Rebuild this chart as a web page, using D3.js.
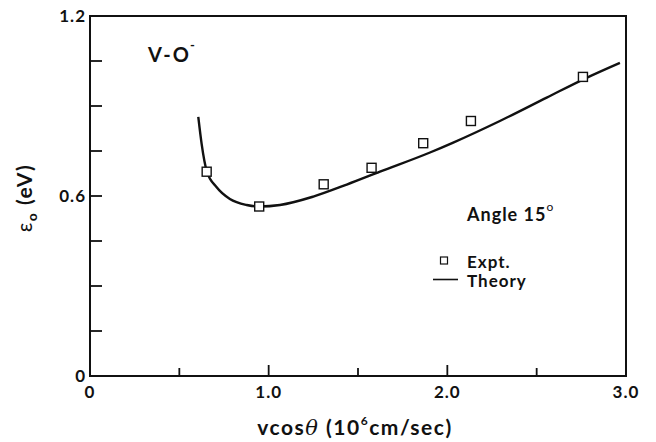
<!DOCTYPE html>
<html>
<head>
<meta charset="utf-8">
<script src="https://cdn.jsdelivr.net/npm/d3@7"></script>
<style>
  body { margin: 0; background: #fff; }
  svg text { font-family: Lato, "Open Sans", sans-serif; font-weight: 700; fill: #111; letter-spacing: 1px; }
</style>
</head>
<body>
<svg id="chart" width="656" height="442"></svg>
<script>
// experimental points (Expt.)
var exptX = [0.653, 0.947, 1.308, 1.576, 1.865, 2.132, 2.759];
var exptY = [0.681, 0.565, 0.639, 0.694, 0.776, 0.850, 0.997];

// theory curve
var theoryX = [0.606, 0.625, 0.653, 0.709, 0.783, 0.877, 0.951, 1.063, 1.250, 1.437, 1.623, 1.903, 2.033, 2.294, 2.556, 2.779, 2.966];
var theoryY = [0.864, 0.773, 0.684, 0.629, 0.590, 0.570, 0.565, 0.570, 0.598, 0.638, 0.681, 0.745, 0.778, 0.850, 0.928, 0.994, 1.044];

var xTicks = [0.5, 1.0, 1.5, 2.0, 2.5];
var xLabels = [0, 1.0, 2.0, 3.0];
var yTicks = [0.15, 0.3, 0.45, 0.6, 0.75, 0.9, 1.05];
var yLabels = [0, 0.6, 1.2];

var svg = d3.select("#chart"),
    margin = {top: 16, right: 30, bottom: 66, left: 90},
    width = +svg.attr("width") - margin.left - margin.right,
    height = +svg.attr("height") - margin.top - margin.bottom;

var x = d3.scaleLinear().domain([0, 3]).range([margin.left, margin.left + width]);
var y = d3.scaleLinear().domain([0, 1.2]).range([margin.top + height, margin.top]);

// frame
svg.append("rect")
  .attr("x", x(0)).attr("y", y(1.2))
  .attr("width", x(3) - x(0)).attr("height", y(0) - y(1.2))
  .attr("fill", "none").attr("stroke", "#111").attr("stroke-width", 2);

// ticks (inward)
svg.selectAll(".xtick").data(xTicks).enter().append("line")
  .attr("x1", function(d) { return x(d); }).attr("x2", function(d) { return x(d); })
  .attr("y1", y(0)).attr("y2", function(d) { return y(0) - (d % 1 === 0 ? 11 : 8); })
  .attr("stroke", "#111").attr("stroke-width", 1.8);

svg.selectAll(".ytick").data(yTicks).enter().append("line")
  .attr("x1", x(0)).attr("x2", x(0) + 12)
  .attr("y1", function(d) { return y(d); }).attr("y2", function(d) { return y(d); })
  .attr("stroke", "#111").attr("stroke-width", 1.8);

// tick labels
svg.selectAll(".xlab").data(xLabels).enter().append("text")
  .attr("x", function(d) { return x(d); })
  .attr("y", y(0) + 22)
  .attr("text-anchor", "middle")
  .style("font-size", "17px")
  .text(function(d) { return d === 0 ? "0" : d.toFixed(1); });

svg.selectAll(".ylab").data(yLabels).enter().append("text")
  .attr("x", x(0) - 4)
  .attr("y", function(d) { return y(d) + 6; })
  .attr("text-anchor", "end")
  .style("font-size", "17px")
  .text(function(d) { return d === 0 ? "0" : d.toFixed(1); });

// theory curve
var theory = theoryX.map(function(d, i) { return [d, theoryY[i]]; });
var line = d3.line()
  .curve(d3.curveMonotoneX)
  .x(function(d) { return x(d[0]); })
  .y(function(d) { return y(d[1]); });

svg.append("path")
  .datum(theory)
  .attr("d", line)
  .attr("fill", "none")
  .attr("stroke", "#111")
  .attr("stroke-width", 2.4);

// experimental squares
var s = 9;
svg.selectAll(".pt").data(exptX).enter().append("rect")
  .attr("x", function(d) { return x(d) - s / 2; })
  .attr("y", function(d, i) { return y(exptY[i]) - s / 2; })
  .attr("width", s).attr("height", s)
  .attr("fill", "#fff").attr("stroke", "#111").attr("stroke-width", 1.4);

// title V-O-
var t = svg.append("text").attr("x", 148).attr("y", 62).style("font-size", "20px").style("letter-spacing", "2px");
t.append("tspan").text("V-O");
t.append("tspan").attr("dx", -1).attr("dy", -12).style("font-size", "13px").text("-");

// Angle 15°
var a = svg.append("text").attr("x", 467).attr("y", 221).style("font-size", "18px");
a.append("tspan").text("Angle 15");
a.append("tspan").attr("dy", -10).style("font-size", "12px").style("font-weight", 400).text("o");

// legend
svg.append("rect")
  .attr("x", 440.5).attr("y", 257).attr("width", 7).attr("height", 7)
  .attr("fill", "#fff").attr("stroke", "#111").attr("stroke-width", 1.2);
svg.append("text").attr("x", 467).attr("y", 268).style("font-size", "17px").text("Expt.");
svg.append("line")
  .attr("x1", 433).attr("x2", 458).attr("y1", 279.5).attr("y2", 279.5)
  .attr("stroke", "#111").attr("stroke-width", 1.6);
svg.append("text").attr("x", 467).attr("y", 287).style("font-size", "17px").text("Theory");

// axis titles
var xt = svg.append("text").attr("x", 355).attr("y", 435)
  .attr("text-anchor", "middle").style("font-size", "21px").style("letter-spacing", "1.5px");
xt.append("tspan").text("vcos");
xt.append("tspan").style("font-style", "italic").style("font-family", "'DejaVu Serif', serif").style("font-weight", 400).text("\u03b8");
xt.append("tspan").text(" (10");
xt.append("tspan").attr("dy", -10).style("font-size", "12px").text("6");
xt.append("tspan").attr("dy", 10).text("cm/sec)");

var yt = svg.append("text")
  .attr("transform", "translate(32,198) rotate(-90)")
  .attr("text-anchor", "middle").style("font-size", "21px").style("letter-spacing", "1.5px");
yt.append("tspan").style("font-weight", 400).text("\u03b5");
yt.append("tspan").attr("dy", 5).style("font-size", "14px").text("o");
yt.append("tspan").attr("dy", -5).text(" (eV)");
</script>
</body>
</html>
